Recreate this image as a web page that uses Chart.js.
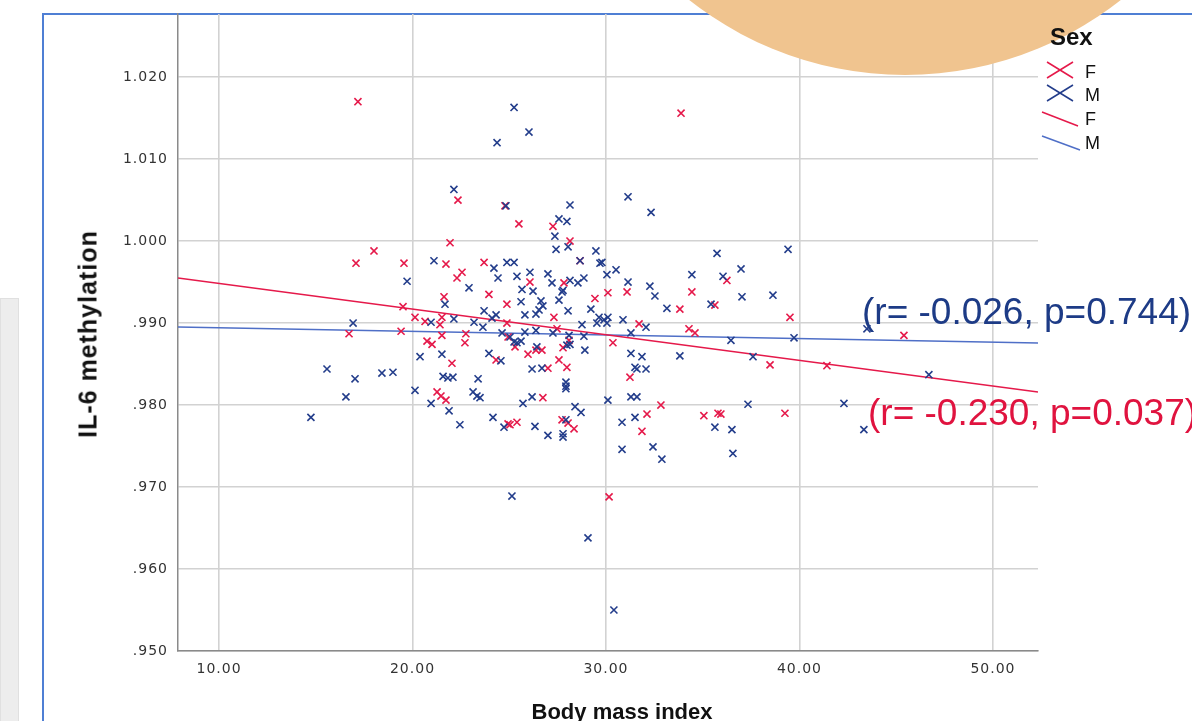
<!DOCTYPE html>
<html>
<head>
<meta charset="utf-8">
<script src="https://cdn.jsdelivr.net/npm/chart.js@4.4.1/dist/chart.umd.min.js"></script>
<style>
  html, body { margin: 0; padding: 0; background: #fff; overflow: hidden; }
  body { width: 1192px; height: 721px; position: relative; font-family: 'Liberation Sans', Arial, sans-serif; }
  #side { position: absolute; left: 0; top: 298px; width: 17px; height: 440px; background: #ededed; border: 1px solid #e0e0e0; }
  #frame { position: absolute; left: 42px; top: 13px; width: 1200px; height: 800px; border-left: 2px solid #4f7fd4; border-top: 2px solid #4f7fd4; box-sizing: border-box; }
  #wrap { position: absolute; left: 0; top: 0; width: 1192px; height: 745px; }
  #blob { position: absolute; left: 557px; top: -621px; width: 696px; height: 696px; border-radius: 50%; background: #f0c48f; }
  .title { position: absolute; font-weight: bold; color: #111; white-space: nowrap; transform: translate(-50%, -50%); }
  #ytitle { left: 88px; top: 334px; font-size: 25px; letter-spacing: 1px; transform: translate(-50%, -50%) rotate(-90deg); }
  #xtitle { left: 622px; top: 712px; font-size: 22px; }
  .stat { position: absolute; font-size: 37px; line-height: 37px; white-space: nowrap; }
  #statM { left: 862px; top: 293px; color: #1d3b86; }
  #statF { left: 868px; top: 394px; color: #e0133f; }
  #legend { position: absolute; left: 1030px; top: 20px; }
</style>
</head>
<body>
<div id="side"></div>
<div id="frame"></div>
<div id="wrap"><canvas id="chart"></canvas></div>
<div id="blob"></div>
<div class="title" id="ytitle">IL-6 methylation</div>
<div class="title" id="xtitle">Body mass index</div>
<div class="stat" id="statM">(r= -0.026, p=0.744)</div>
<div class="stat" id="statF">(r= -0.230, p=0.037)</div>
<svg id="legend" width="162" height="140">
  <text x="20" y="25" font-family="Liberation Sans, Arial" font-weight="bold" font-size="24" fill="#111">Sex</text>
  <line x1="17" y1="42" x2="43" y2="58" stroke="#e5194a" stroke-width="1.5"/>
  <line x1="17" y1="58" x2="43" y2="42" stroke="#e5194a" stroke-width="1.5"/>
  <text x="55" y="58" font-family="Liberation Sans, Arial" font-size="18" fill="#111">F</text>
  <line x1="17" y1="65" x2="43" y2="81" stroke="#233d8b" stroke-width="1.5"/>
  <line x1="17" y1="81" x2="43" y2="65" stroke="#233d8b" stroke-width="1.5"/>
  <text x="55" y="81" font-family="Liberation Sans, Arial" font-size="18" fill="#111">M</text>
  <line x1="12" y1="92" x2="48" y2="106" stroke="#e5194a" stroke-width="1.5"/>
  <text x="55" y="105" font-family="Liberation Sans, Arial" font-size="18" fill="#111">F</text>
  <line x1="12" y1="116" x2="50" y2="130" stroke="#4f6fc7" stroke-width="1.5"/>
  <text x="55" y="129" font-family="Liberation Sans, Arial" font-size="18" fill="#111">M</text>
</svg>
<script>
// Female (F) points: BMI and IL-6 methylation
const femaleBmi = [17.18, 22.35, 24.78, 21.94, 18.01, 17.08, 19.56, 21.73, 23.70, 22.56, 22.30, 23.95, 21.63, 33.88, 25.50,
  27.26, 28.14, 28.66, 26.07, 27.83, 30.10, 31.09, 34.44, 29.43, 36.25, 19.51, 24.88, 20.13, 20.65, 21.52,
  21.42, 24.88, 16.72, 19.41, 21.52, 22.76, 22.71, 20.75, 21.01, 24.94, 22.04, 24.32, 21.27, 21.47, 21.73,
  24.94, 33.82, 27.31, 31.71, 25.30, 27.47, 28.09, 27.78, 26.38, 26.69, 25.97, 30.36, 34.29, 34.60, 27.57,
  27.98, 27.00, 31.24, 26.74, 32.84, 32.12, 35.06, 35.79, 25.04, 25.40, 27.73, 28.04, 28.35, 31.86, 35.63,
  39.51, 38.48, 41.42, 45.40, 35.94, 39.25, 30.16];
const femaleMeth = [1.0170, 1.0050, 1.0043, 0.9998, 0.9988, 0.9973, 0.9973, 0.9972, 0.9974, 0.9962, 0.9955, 0.9935, 0.9932, 1.0156, 1.0021,
  1.0018, 1.0000, 0.9976, 0.9950, 0.9949, 0.9937, 0.9938, 0.9938, 0.9930, 0.9952, 0.9920, 0.9923, 0.9907, 0.9902, 0.9907,
  0.9898, 0.9900, 0.9887, 0.9890, 0.9885, 0.9887, 0.9876, 0.9878, 0.9874, 0.9883, 0.9851, 0.9855, 0.9816, 0.9811, 0.9806,
  0.9777, 0.9917, 0.9907, 0.9899, 0.9871, 0.9893, 0.9879, 0.9870, 0.9867, 0.9867, 0.9862, 0.9876, 0.9893, 0.9888, 0.9855,
  0.9846, 0.9845, 0.9834, 0.9809, 0.9800, 0.9789, 0.9787, 0.9790, 0.9776, 0.9779, 0.9782, 0.9778, 0.9771, 0.9768, 0.9922,
  0.9907, 0.9849, 0.9848, 0.9885, 0.9789, 0.9790, 0.9688];

// Male (M) points
const maleBmi = [24.37, 22.14, 24.83, 21.11, 24.21, 24.88, 24.42, 19.72, 22.92, 25.25, 26.02, 31.14, 32.33, 28.14, 27.57,
  27.98, 27.36, 27.42, 28.04, 29.48, 28.66, 25.25, 29.69, 29.79, 35.74, 26.07, 25.40, 27.00, 30.05, 30.52,
  34.44, 27.21, 28.14, 28.55, 28.86, 31.14, 32.27, 25.66, 26.23, 27.78, 32.53, 39.41, 36.98, 36.05, 37.03,
  38.63, 21.68, 20.96, 22.14, 23.18, 23.70, 24.11, 24.32, 23.64, 16.93, 24.63, 20.39, 21.52, 23.95, 24.57,
  15.58, 17.03, 18.42, 18.99, 21.58, 21.83, 22.09, 23.39, 16.56, 20.13, 20.96, 23.13, 23.33, 23.49, 14.75,
  21.89, 22.45, 24.16, 24.73, 25.61, 26.64, 26.74, 26.54, 26.38, 25.81, 27.57, 27.73, 35.43, 33.15, 28.04,
  29.22, 29.64, 29.90, 30.10, 29.53, 30.05, 30.88, 32.07, 28.76, 25.04, 25.25, 25.61, 25.40, 25.81, 26.38,
  27.26, 28.09, 27.98, 28.14, 28.86, 26.43, 28.91, 31.29, 31.29, 31.86, 33.82, 26.18, 26.69, 31.50, 31.60,
  32.07, 27.93, 27.93, 27.93, 26.18, 25.71, 30.10, 31.29, 31.60, 28.40, 28.71, 31.50, 26.33, 27.93, 27.00,
  27.78, 27.78, 30.83, 35.63, 30.83, 32.43, 32.89, 36.46, 39.72, 37.60, 43.49, 46.69, 37.34, 42.30, 36.51,
  43.33, 36.56, 25.14, 29.07, 30.41];
const maleMeth = [1.0120, 1.0063, 1.0043, 0.9976, 0.9967, 0.9974, 0.9955, 0.9951, 0.9943, 1.0163, 1.0133, 1.0054, 1.0035, 1.0044, 1.0027,
  1.0024, 1.0006, 0.9990, 0.9993, 0.9988, 0.9976, 0.9974, 0.9973, 0.9974, 0.9985, 0.9962, 0.9957, 0.9960, 0.9959, 0.9965,
  0.9959, 0.9949, 0.9952, 0.9949, 0.9955, 0.9950, 0.9945, 0.9941, 0.9939, 0.9940, 0.9933, 0.9990, 0.9966, 0.9957, 0.9932,
  0.9934, 0.9923, 0.9901, 0.9905, 0.9901, 0.9915, 0.9906, 0.9910, 0.9895, 0.9900, 0.9888, 0.9859, 0.9862, 0.9863, 0.9854,
  0.9844, 0.9832, 0.9839, 0.9840, 0.9835, 0.9833, 0.9834, 0.9832, 0.9810, 0.9818, 0.9802, 0.9816, 0.9811, 0.9809, 0.9785,
  0.9793, 0.9776, 0.9785, 0.9773, 0.9926, 0.9927, 0.9921, 0.9916, 0.9911, 0.9910, 0.9928, 0.9938, 0.9923, 0.9918, 0.9915,
  0.9917, 0.9907, 0.9904, 0.9907, 0.9900, 0.9900, 0.9904, 0.9895, 0.9898, 0.9883, 0.9877, 0.9878, 0.9876, 0.9889, 0.9891,
  0.9888, 0.9885, 0.9873, 0.9874, 0.9884, 0.9871, 0.9867, 0.9888, 0.9863, 0.9859, 0.9860, 0.9844, 0.9845, 0.9846, 0.9844,
  0.9844, 0.9828, 0.9823, 0.9820, 0.9810, 0.9802, 0.9806, 0.9810, 0.9810, 0.9798, 0.9791, 0.9785, 0.9774, 0.9782, 0.9763,
  0.9765, 0.9761, 0.9779, 0.9773, 0.9746, 0.9749, 0.9734, 0.9879, 0.9882, 0.9859, 0.9893, 0.9837, 0.9801, 0.9802, 0.9770,
  0.9770, 0.9741, 0.9689, 0.9638, 0.9550];

// Fit lines, read at the plot's left and right edges
const fitBmi = [7.88, 52.33];
const fitF = [0.9955, 0.9816];
const fitM = [0.98951, 0.98756];

const xTicks = [10, 20, 30, 40, 50];
const xTickLabels = ['10.00', '20.00', '30.00', '40.00', '50.00'];
const yTicks = [0.95, 0.96, 0.97, 0.98, 0.99, 1.00, 1.01, 1.02];
const yTickLabels = ['.950', '.960', '.970', '.980', '.990', '1.000', '1.010', '1.020'];

const red = '#e5194a';
const navy = '#233d8b';
const lightBlue = '#4f6fc7';

const toPts = (xs, ys) => xs.map((x, i) => ({ x: x, y: ys[i] }));

const tickFont = { family: 'DejaVu Sans', size: 14 };

const spacing = {
  id: 'spacing',
  beforeDraw(chart) { chart.ctx.letterSpacing = '1px'; }
};

new Chart(document.getElementById('chart'), {
  type: 'scatter',
  data: {
    datasets: [
      { label: 'M', data: toPts(maleBmi, maleMeth), pointStyle: 'crossRot', radius: 5,
        borderColor: navy, backgroundColor: navy, borderWidth: 1.6 },
      { label: 'F', data: toPts(femaleBmi, femaleMeth), pointStyle: 'crossRot', radius: 5,
        borderColor: red, backgroundColor: red, borderWidth: 1.6 },
      { type: 'line', label: 'F fit', data: toPts(fitBmi, fitF), borderColor: red,
        borderWidth: 1.5, pointRadius: 0, fill: false },
      { type: 'line', label: 'M fit', data: toPts(fitBmi, fitM), borderColor: lightBlue,
        borderWidth: 1.5, pointRadius: 0, fill: false }
    ]
  },
  options: {
    responsive: true,
    maintainAspectRatio: false,
    animation: false,
    layout: { padding: { left: 100, top: 14, right: 154, bottom: 21 } },
    plugins: { legend: { display: false }, tooltip: { enabled: false } },
    scales: {
      x: {
        type: 'linear', min: 7.88, max: 52.33,
        afterFit: s => { s.height = 73; s.paddingLeft = 0; s.paddingRight = 0; },
        afterBuildTicks: s => { s.ticks = xTicks.map(v => ({ value: v })); },
        grid: { color: '#d2d2d2', lineWidth: 1.6, drawTicks: false },
        border: { color: '#8a8a8a', width: 1.5 },
        ticks: { font: tickFont, color: '#333', padding: 10, maxRotation: 0,
          callback: v => xTickLabels[xTicks.indexOf(v)] }
      },
      y: {
        type: 'linear', min: 0.95, max: 1.0277,
        afterFit: s => { s.width = 78; s.paddingTop = 0; s.paddingBottom = 0; },
        afterBuildTicks: s => { s.ticks = yTicks.map(v => ({ value: v })); },
        grid: { color: '#d2d2d2', lineWidth: 1.6, drawTicks: false },
        border: { color: '#8a8a8a', width: 1.5 },
        ticks: { font: tickFont, color: '#333', padding: 10,
          callback: v => yTickLabels[yTicks.findIndex(t => Math.abs(t - v) < 1e-6)] }
      }
    }
  },
  plugins: [spacing]
});
</script>
</body>
</html>
